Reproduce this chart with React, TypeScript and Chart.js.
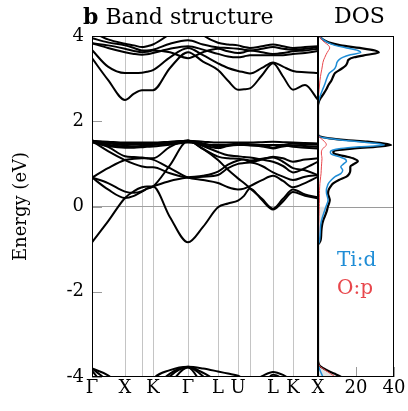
import React, { useEffect, useRef } from "react";
import { Chart, registerables } from "chart.js";
Chart.register(...registerables);

// k-path coordinate of each sample point (Γ X W K Γ L U W L K X path)
const kPath = [0, 16, 33, 42, 50, 55, 61, 78, 96, 111, 126, 136, 146, 152, 158, 170, 181, 191, 201, 213, 226];
const symPoints = [0, 33, 50, 61, 96, 126, 146, 158, 181, 201, 226];
const symLabels = ["Γ", "X", "", "K", "Γ", "L", "U", "", "L", "K", "X"];
const energyTicks = [-4, -2, 0, 2, 4];
const dosTicks = [20, 40];

// upper (empty) bands
const bandU1 = [3.48, 2.97, 2.5, 2.65, 2.73, 2.73, 2.73, 3.25, 3.62, 3.4, 3.2, 2.95, 2.74, 2.75, 2.77, 3.08, 3.36, 3.05, 2.74, 2.85, 2.5];
const bandU2 = [3.67, 3.28, 3.13, 3.13, 3.14, 3.16, 3.2, 3.5, 3.72, 3.55, 3.36, 3.25, 3.18, 3.15, 3.12, 3.25, 3.38, 3.28, 3.18, 3.15, 3.13];
const bandU3 = [3.83, 3.72, 3.62, 3.58, 3.56, 3.57, 3.6, 3.7, 3.76, 3.68, 3.58, 3.52, 3.5, 3.52, 3.55, 3.55, 3.55, 3.55, 3.58, 3.6, 3.65];
const bandU4 = [3.83, 3.78, 3.7, 3.65, 3.62, 3.63, 3.66, 3.62, 3.48, 3.62, 3.7, 3.64, 3.6, 3.62, 3.66, 3.62, 3.58, 3.6, 3.64, 3.66, 3.7];
const bandU5 = [3.95, 3.85, 3.78, 3.72, 3.66, 3.66, 3.68, 3.82, 3.9, 3.8, 3.73, 3.72, 3.7, 3.68, 3.66, 3.7, 3.74, 3.7, 3.68, 3.7, 3.74];
const bandU6 = [4.1, 3.92, 3.82, 3.78, 3.74, 3.76, 3.8, 4.05, 4.35, 4.02, 3.84, 3.8, 3.78, 3.74, 3.72, 3.76, 3.8, 3.76, 3.72, 3.74, 3.76];

// middle (t2g-like) manifold
const bandF1 = [1.54, 1.52, 1.5, 1.5, 1.5, 1.5, 1.5, 1.52, 1.54, 1.52, 1.5, 1.5, 1.5, 1.5, 1.5, 1.51, 1.52, 1.51, 1.5, 1.49, 1.48];
const bandF2 = [1.54, 1.48, 1.44, 1.45, 1.46, 1.46, 1.47, 1.5, 1.54, 1.48, 1.4, 1.45, 1.47, 1.47, 1.46, 1.44, 1.38, 1.44, 1.47, 1.46, 1.45];
const bandF3 = [1.54, 1.45, 1.41, 1.41, 1.42, 1.43, 1.44, 1.48, 1.54, 1.44, 1.37, 1.42, 1.44, 1.44, 1.43, 1.41, 1.36, 1.41, 1.43, 1.42, 1.4];
const bandF4 = [1.5, 1.42, 1.38, 1.38, 1.39, 1.4, 1.41, 1.45, 1.5, 1.46, 1.44, 1.44, 1.45, 1.45, 1.44, 1.44, 1.44, 1.44, 1.4, 1.38, 1.36];
const bandD1 = [-0.84, -0.35, 0.2, 0.36, 0.45, 0.47, 0.47, -0.25, -0.84, -0.48, -0.02, 0.07, 0.14, 0.25, 0.42, 0.15, -0.07, 0.12, 0.34, 0.25, 0.19];
const bandD2 = [0.68, 0.4, 0.2, 0.25, 0.35, 0.42, 0.47, 0.97, 1.54, 1.35, 1.09, 0.86, 0.66, 0.55, 0.43, 0.18, -0.05, 0.18, 0.4, 0.28, 0.22];
const bandD3 = [0.68, 0.9, 1.09, 1.12, 1.13, 1.13, 1.13, 1.4, 1.54, 1.35, 1.17, 1.13, 1.12, 1.1, 1.05, 1.1, 1.17, 1.13, 1.05, 1.1, 1.13];
const bandD4 = [1.54, 1.3, 1.09, 1.0, 0.94, 0.92, 0.92, 0.78, 0.68, 0.7, 0.74, 0.9, 1.0, 1.02, 1.03, 0.95, 0.8, 0.7, 0.62, 0.7, 0.74];
const bandD5 = [0.68, 0.55, 0.35, 0.32, 0.36, 0.42, 0.47, 0.6, 0.68, 0.72, 0.82, 0.98, 1.08, 1.1, 1.08, 1.12, 1.15, 1.05, 0.9, 0.85, 0.74];
const bandD6 = [1.54, 1.4, 1.18, 1.16, 1.15, 1.13, 1.1, 0.9, 0.68, 0.62, 0.55, 0.45, 0.4, 0.42, 0.48, 0.62, 0.72, 0.6, 0.45, 0.55, 0.7];
const bandD7 = [1.54, 1.5, 1.47, 1.47, 1.47, 1.47, 1.48, 1.5, 1.54, 1.42, 1.28, 1.2, 1.18, 1.16, 1.15, 1.1, 1.05, 0.95, 0.8, 0.9, 1.05];

// top of the O-p valence bands
const bandL1 = [-3.8, -3.96, -4.3, -4.4, -4.4, -4.3, -4.05, -3.84, -3.76, -3.8, -3.87, -3.92, -3.97, -4.05, -4.12, -3.98, -3.88, -3.95, -4.1, -4.3, -4.4];
const bandL2 = [-3.8, -4.1, -4.5, -4.5, -4.5, -4.5, -4.3, -3.92, -3.76, -3.9, -4.1, -4.2, -4.3, -4.4, -4.4, -4.2, -3.95, -4.05, -4.3, -4.5, -4.5];
const bandL3 = [-3.85, -4.3, -4.6, -4.6, -4.6, -4.6, -4.5, -3.98, -3.77, -3.98, -4.4, -4.5, -4.5, -4.5, -4.5, -4.4, -4.1, -4.3, -4.5, -4.6, -4.6];
const bandL4 = [-4.5, -4.6, -4.6, -4.6, -4.6, -4.6, -4.6, -4.15, -3.78, -4.2, -4.6, -4.6, -4.6, -4.6, -4.6, -4.6, -4.5, -4.6, -4.6, -4.6, -4.6];

const bands = [
  bandU1, bandU2, bandU3, bandU4, bandU5, bandU6,
  bandF1, bandF2, bandF3, bandF4, bandD1, bandD2, bandD3, bandD4, bandD5, bandD6, bandD7,
  bandL1, bandL2, bandL3, bandL4,
];

// DOS (energy ascending)
const dosEnergy = [-4.05, -3.98, -3.92, -3.86, -3.8, -3.74, -3.68, -3.6, -3.0, -1.5, -0.9, -0.86, -0.8, -0.72, -0.64, -0.56, -0.48, -0.4, -0.32, -0.24, -0.16, -0.08, 0.0, 0.07, 0.15, 0.22, 0.3, 0.38, 0.46, 0.54, 0.62, 0.7, 0.77, 0.85, 0.93, 1.0, 1.06, 1.12, 1.17, 1.23, 1.28, 1.32, 1.36, 1.4, 1.44, 1.48, 1.52, 1.56, 1.6, 1.64, 1.7, 2.0, 2.35, 2.45, 2.55, 2.65, 2.75, 2.85, 2.95, 3.05, 3.13, 3.22, 3.3, 3.38, 3.44, 3.5, 3.56, 3.61, 3.66, 3.72, 3.78, 3.85, 3.92, 4.0, 4.1];
const dosTotal = [14, 11.5, 8.5, 5.5, 3, 1, 0.3, 0, 0, 0, 0, 0.6, 1.3, 1.6, 1.7, 1.8, 2.0, 2.3, 2.8, 3.5, 4.2, 4.8, 5.2, 5.8, 6.2, 5.8, 5.3, 5.5, 6.5, 8, 11, 15, 16.5, 17, 17, 19, 21, 19, 15, 9, 8, 10, 18, 30, 38.5, 34, 26, 15, 6, 1, 0, 0, 0, 0.4, 1.5, 3, 4.4, 5.5, 7, 8, 9, 12, 14.5, 15.5, 16, 19, 26, 32, 30, 22, 12, 5.5, 2.5, 1, 0.5];
const dosTiD = [3, 2.4, 1.8, 1.2, 0.7, 0.3, 0.1, 0, 0, 0, 0, 0.4, 0.8, 1.0, 1.1, 1.2, 1.3, 1.5, 1.9, 2.4, 3.0, 3.6, 4.2, 4.8, 5.3, 5, 4.5, 4.4, 4.8, 5.5, 7, 9, 12, 13, 12, 13.5, 15, 14, 11, 7, 6.5, 7.5, 12, 22, 35, 31, 22, 12, 5, 0.8, 0, 0, 0, 0.2, 0.8, 1.6, 2.5, 3.4, 4.2, 5, 6, 8.5, 9.5, 10, 11, 13, 17, 22.5, 21, 15, 9, 5, 2.5, 0.8, 0.4];
const dosOP = [10.5, 8.5, 6.5, 4.5, 2.5, 0.8, 0.3, 0, 0, 0, 0, 0.2, 0.3, 0.3, 0.3, 0.4, 0.4, 0.4, 0.5, 0.5, 0.6, 0.6, 0.7, 0.7, 0.8, 0.8, 0.8, 0.8, 0.9, 1.0, 1.2, 1.4, 1.6, 1.7, 1.8, 1.9, 2.0, 2.1, 2.0, 1.8, 1.8, 2.0, 2.6, 3.5, 4.4, 4.2, 3.5, 2.5, 1.5, 0.5, 0, 0, 0, 0.1, 0.2, 0.4, 0.6, 0.8, 1.0, 1.3, 1.6, 2.0, 2.3, 2.6, 3.0, 3.6, 4.2, 4.8, 5.5, 6.2, 5.5, 3.5, 1.8, 0.8, 0.3];

const SERIF = "'DejaVu Serif', serif";
const BLUE = "#1f8dd6";
const RED = "#e8474c";

const BAND_W = 330;
const H = 411;
const DOS_LEFT = 300;
const DOS_W = 108;

const bandDecor = {
  id: "bandDecor",
  afterDatasetsDraw(chart: any) {
    const { ctx, chartArea: a, scales } = chart;
    ctx.save();
    ctx.strokeStyle = "#9a9a9a";
    ctx.lineWidth = 1;
    energyTicks.forEach((v) => {
      const y = Math.round(scales.y.getPixelForValue(v)) + 0.5;
      ctx.beginPath();
      ctx.moveTo(a.left, y);
      ctx.lineTo(a.left + 10, y);
      ctx.stroke();
    });
    ctx.strokeStyle = "#000";
    ctx.strokeRect(a.left + 0.5, a.top + 0.5, a.right - a.left - 1, a.bottom - a.top - 1);
    ctx.restore();
  },
};

const dosDecor = {
  id: "dosDecor",
  beforeDatasetsDraw(chart: any) {
    const { ctx, chartArea: a, scales } = chart;
    ctx.save();
    ctx.strokeStyle = "#9a9a9a";
    ctx.lineWidth = 1;
    const y0 = Math.round(scales.y.getPixelForValue(0)) + 0.5;
    ctx.beginPath();
    ctx.moveTo(a.left, y0);
    ctx.lineTo(a.right, y0);
    ctx.stroke();
    dosTicks.forEach((v) => {
      const x = Math.round(scales.x.getPixelForValue(v)) + 0.5;
      ctx.beginPath();
      ctx.moveTo(x, a.bottom);
      ctx.lineTo(x, a.bottom - 10);
      ctx.stroke();
    });
    ctx.restore();
  },
  afterDatasetsDraw(chart: any) {
    const { ctx, chartArea: a } = chart;
    ctx.save();
    ctx.strokeStyle = "#000";
    ctx.lineWidth = 1;
    ctx.strokeRect(a.left + 0.5, a.top + 0.5, a.right - a.left - 1, a.bottom - a.top - 1);
    ctx.restore();
  },
};

function BandChart() {
  const ref = useRef<HTMLCanvasElement>(null);
  useEffect(() => {
    const datasets = bands.map((b) => ({
      data: b.map((e, i) => ({ x: kPath[i], y: e })),
      borderColor: "#000",
      borderWidth: 2,
      pointRadius: 0,
      fill: false,
      cubicInterpolationMode: "monotone" as const,
    }));
    const chart = new Chart(ref.current!, {
      type: "line",
      data: { datasets },
      plugins: [bandDecor],
      options: {
        animation: false,
        responsive: false,
        devicePixelRatio: 1,
        layout: { padding: { top: 36, right: 12, bottom: 0, left: 0 } },
        plugins: { legend: { display: false }, tooltip: { enabled: false } },
        scales: {
          x: {
            type: "linear",
            min: 0,
            max: 226,
            afterBuildTicks: (axis: any) => {
              axis.ticks = symPoints.map((v) => ({ value: v }));
            },
            afterFit: (axis: any) => {
              axis.height = 34;
            },
            ticks: {
              autoSkip: false,
              maxRotation: 0,
              padding: 1,
              color: "#000",
              font: { family: SERIF, size: 18 },
              callback: (_v: any, i: number) => symLabels[i],
            },
            grid: { color: "#c4c4c4", lineWidth: 1, drawTicks: false },
            border: { display: false },
          },
          y: {
            type: "linear",
            min: -4,
            max: 4,
            afterBuildTicks: (axis: any) => {
              axis.ticks = energyTicks.map((v) => ({ value: v }));
            },
            afterFit: (axis: any) => {
              axis.width = 92;
            },
            ticks: {
              padding: 8,
              color: "#000",
              font: { family: SERIF, size: 18 },
              callback: (v: any) => String(v),
            },
            grid: {
              drawTicks: false,
              color: (c: any) => (c.tick && c.tick.value === 0 ? "#a0a0a0" : "rgba(0,0,0,0)"),
            },
            border: { display: false },
            title: {
              display: true,
              text: "Energy (eV)",
              color: "#000",
              font: { family: SERIF, size: 18 },
              padding: { top: 11, bottom: 0 },
            },
          },
        },
      },
    });
    return () => chart.destroy();
  }, []);
  return (
    <canvas
      ref={ref}
      width={BAND_W}
      height={H}
      style={{ position: "absolute", left: 0, top: 0, width: BAND_W, height: H }}
    />
  );
}

function DosChart() {
  const ref = useRef<HTMLCanvasElement>(null);
  useEffect(() => {
    const toPts = (vals: number[]) => vals.map((v, i) => ({ x: v, y: dosEnergy[i] }));
    const occupiedIdx = dosEnergy.map((e, i) => i).filter((i) => dosEnergy[i] <= 0);
    const common = { pointRadius: 0, cubicInterpolationMode: "monotone" as const };
    const chart = new Chart(ref.current!, {
      type: "line",
      data: {
        datasets: [
          { ...common, data: toPts(dosOP), borderColor: RED, borderWidth: 1, fill: false },
          { ...common, data: toPts(dosTiD), borderColor: BLUE, borderWidth: 1.5, fill: false },
          { ...common, data: toPts(dosTotal), borderColor: "#000", borderWidth: 2.2, fill: false },
          {
            ...common,
            data: occupiedIdx.map((i) => ({ x: dosTotal[i], y: dosEnergy[i] })),
            borderWidth: 0,
            borderColor: "rgba(0,0,0,0)",
            backgroundColor: "#e4e4e4",
            fill: "origin",
          },
        ],
      },
      plugins: [dosDecor],
      options: {
        animation: false,
        responsive: false,
        devicePixelRatio: 1,
        indexAxis: "y",
        layout: { padding: { top: 36, right: 14, bottom: 0, left: 18 } },
        plugins: { legend: { display: false }, tooltip: { enabled: false } },
        scales: {
          x: {
            type: "linear",
            min: 0,
            max: 40,
            afterBuildTicks: (axis: any) => {
              axis.ticks = dosTicks.map((v) => ({ value: v }));
            },
            afterFit: (axis: any) => {
              axis.height = 34;
            },
            ticks: {
              autoSkip: false,
              maxRotation: 0,
              padding: 1,
              color: "#000",
              font: { family: SERIF, size: 18 },
              callback: (v: any) => String(v),
            },
            grid: { display: false, drawTicks: false },
            border: { display: false },
          },
          y: { type: "linear", min: -4, max: 4, display: false },
        },
      },
    });
    return () => chart.destroy();
  }, []);
  return (
    <canvas
      ref={ref}
      width={DOS_W}
      height={H}
      style={{ position: "absolute", left: DOS_LEFT, top: 0, width: DOS_W, height: H }}
    />
  );
}

export default function App() {
  const txt: React.CSSProperties = {
    position: "absolute",
    fontFamily: SERIF,
    whiteSpace: "nowrap",
    margin: 0,
  };
  return (
    <div style={{ position: "fixed", left: 0, top: 0, width: 408, height: 411, background: "#fff", overflow: "hidden" }}>
      <BandChart />
      <DosChart />
      <div style={{ ...txt, left: 83, top: 5, fontSize: 22, lineHeight: "22px", color: "#000" }}>
        <b>b</b> Band structure
      </div>
      <div style={{ ...txt, left: 334, top: 5, fontSize: 22, lineHeight: "22px", color: "#000" }}>
        DOS
      </div>
      <div style={{ ...txt, left: 337, top: 249, fontSize: 20, lineHeight: "20px", color: BLUE }}>Ti:d</div>
      <div style={{ ...txt, left: 337, top: 277, fontSize: 20, lineHeight: "20px", color: RED }}>O:p</div>
    </div>
  );
}
